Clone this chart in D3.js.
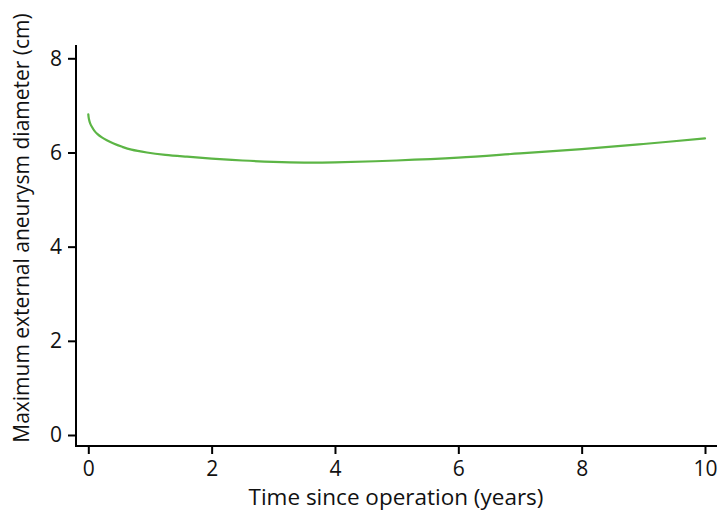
<!DOCTYPE html>
<html><head><meta charset="utf-8">
<script src="https://cdn.jsdelivr.net/npm/d3@7"></script>
<style>body{margin:0;background:#fff}svg{display:block}text{font-family:"Open Sans",sans-serif;fill:#111}</style>
</head><body>
<svg id="c" width="718" height="513"></svg>
<script>
const years = [0, 0.01, 0.03, 0.06, 0.1, 0.15, 0.22, 0.3, 0.41, 0.55, 0.7, 0.95, 1.25, 1.6, 2.0, 2.5, 3.0, 3.5, 4.0, 5.0, 6.0, 7.0, 8.0, 9.0, 10.0];
const diameter = [6.81, 6.71, 6.62, 6.54, 6.46, 6.39, 6.32, 6.26, 6.19, 6.12, 6.06, 6.00, 5.95, 5.91, 5.87, 5.83, 5.80, 5.785, 5.79, 5.83, 5.89, 5.98, 6.07, 6.18, 6.30];
const xTicks = [0, 2, 4, 6, 8, 10];
const yTicks = [0, 2, 4, 6, 8];
const xTitle = "Time since operation (years)";
const yTitle = "Maximum external aneurysm diameter (cm)";

const svg = d3.select("#c");
const x = d3.scaleLinear().domain([0, 10]).range([88.3, 705]);
const y = d3.scaleLinear().domain([0, 8]).range([435, 58.3]);

const axisX = 76, axisY = 446;

svg.append("line").attr("x1", axisX).attr("x2", axisX).attr("y1", 45).attr("y2", axisY + 1)
  .attr("stroke", "#000").attr("stroke-width", 2);
svg.append("line").attr("x1", axisX - 1).attr("x2", 717).attr("y1", axisY).attr("y2", axisY)
  .attr("stroke", "#000").attr("stroke-width", 2);

const gx = svg.append("g").attr("transform", `translate(0,${axisY})`)
  .call(d3.axisBottom(x).tickValues(xTicks).tickSize(8).tickPadding(7).tickFormat(d3.format("d")));
gx.select(".domain").remove();
gx.selectAll(".tick line").attr("stroke", "#000").attr("stroke-width", 2);
gx.selectAll(".tick text").attr("font-size", 21).attr("font-family", "Open Sans").attr("fill", "#111");

const gy = svg.append("g").attr("transform", `translate(${axisX},0)`)
  .call(d3.axisLeft(y).tickValues(yTicks).tickSize(8).tickPadding(6).tickFormat(d3.format("d")));
gy.select(".domain").remove();
gy.selectAll(".tick line").attr("stroke", "#000").attr("stroke-width", 2);
gy.selectAll(".tick text").attr("font-size", 21).attr("font-family", "Open Sans").attr("fill", "#111");

svg.append("text").attr("x", 396).attr("y", 505).attr("text-anchor", "middle")
  .attr("font-size", 22.5).text(xTitle);
svg.append("text").attr("transform", "translate(29,228) rotate(-90)").attr("text-anchor", "middle")
  .attr("font-size", 21).text(yTitle);

const data = years.map((t, i) => ({t, d: diameter[i]}));
svg.append("path").datum(data)
  .attr("fill", "none").attr("stroke", "#5cb545").attr("stroke-width", 2.2)
  .attr("stroke-linecap", "round")
  .attr("d", d3.line().x(p => x(p.t)).y(p => y(p.d)).curve(d3.curveCatmullRom.alpha(0.5)));
</script>
</body></html>
